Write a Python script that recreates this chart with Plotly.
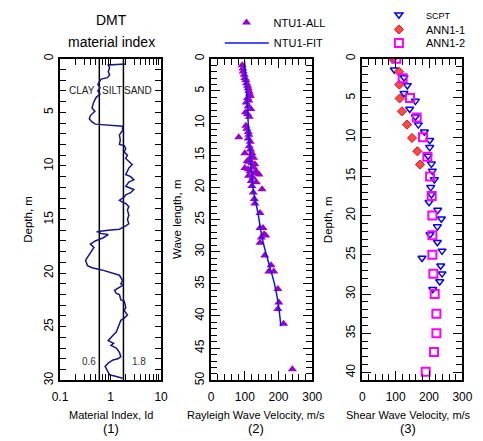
import plotly.graph_objects as go

W, H = 483, 441
FONT = "Liberation Sans, Arial, sans-serif"

# ---------------- data ----------------
# Panel 1: DMT material index profile
id_depth = [0.50, 0.58, 0.85, 1.20, 1.50, 1.76, 1.90, 2.10, 2.40, 2.70, 3.00, 3.30, 3.60, 4.10, 4.60,
            4.90, 5.30, 5.60, 5.90, 6.10, 6.30, 6.70, 7.10, 7.60, 8.00, 8.10, 8.40, 8.70, 9.00, 9.30,
            9.60, 9.87, 10.2, 10.8, 11.0, 11.3, 11.5, 11.9, 12.2, 12.5, 12.7, 12.9, 13.2, 13.4, 13.5,
            13.8, 14.1, 14.6, 15.0, 15.4, 15.6, 15.9, 16.0, 16.1, 16.15, 16.2, 16.3, 16.4, 16.7, 17.0,
            17.3, 17.6, 17.9, 18.5, 18.8, 19.3, 19.5, 19.7, 19.9, 20.2, 20.7, 21.0, 21.1, 21.4, 21.6,
            21.9, 22.0, 22.5, 22.6, 23.2, 23.5, 23.9, 24.2, 24.4, 24.8, 25.2, 25.5, 25.8, 26.3, 26.55,
            26.75, 27.0, 27.4, 27.8, 28.0, 28.1, 28.4, 28.7, 29.2, 29.5, 29.6, 29.8]
id_value = [2.00, 0.90, 0.96, 0.90, 0.96, 0.87, 0.65, 0.62, 0.56, 0.62, 0.56, 0.62, 0.52, 0.46, 0.43,
            0.49, 0.40, 0.38, 0.43, 0.50, 1.73, 1.73, 1.50, 1.56, 1.50, 1.87, 2.00, 1.87, 2.16, 2.00,
            2.30, 2.68, 2.30, 2.00, 2.50, 2.90, 2.30, 2.00, 2.90, 2.50, 2.00, 1.87, 1.50, 1.73, 2.00,
            2.30, 2.16, 2.30, 2.16, 2.30, 2.00, 1.50, 0.90, 0.62, 0.53, 0.62, 0.62, 0.90, 0.72, 0.50,
            0.40, 0.47, 0.43, 0.35, 0.32, 0.35, 0.43, 0.67, 0.96, 1.50, 1.73, 1.60, 1.80, 1.40, 1.20,
            1.30, 1.50, 1.60, 1.87, 2.00, 1.87, 2.16, 1.87, 1.60, 1.50, 1.40, 1.30, 1.12, 0.90, 1.15,
            1.02, 1.30, 1.50, 1.60, 1.40, 1.12, 0.90, 0.78, 0.90, 0.96, 1.20, 1.73]
id_bounds = [0.6, 1.8]
id_bound_labels = ["0.6", "1.8"]
soil_labels = ["CLAY", "SILT", "SAND"]

# Panel 2: Rayleigh wave velocity vs wave length
ntu_all_v = [92, 94, 95, 98, 100, 103, 105, 108, 110, 112, 114, 116, 108, 112, 104, 110, 118, 102, 108, 113,
             103, 106, 110, 112, 82, 110, 116, 113, 117, 100, 121, 118, 126, 107,
             112, 121, 130, 100, 110, 126, 133, 116, 130, 142, 111, 124, 119, 134, 121, 151, 125, 128, 130, 145,
             145, 154, 157, 162, 149, 145, 159, 178, 171, 186, 198, 201, 198, 215, 241]
ntu_all_d = [1.0, 1.5, 2.0, 2.5, 3.0, 3.3, 3.8, 4.2, 4.6, 5.0, 5.4, 5.8, 6.1, 6.5, 6.8, 7.4, 7.8, 8.3, 8.6, 9.0,
             10.4, 10.9, 11.4, 11.8, 12.2, 12.4, 12.9, 13.6, 14.1, 14.7, 14.7, 15.3, 15.4, 15.9,
             16.0, 16.2, 16.4, 17.0, 17.2, 16.9, 17.5, 17.5, 17.8, 18.0, 18.2, 18.5, 19.0, 19.2, 19.8, 20.3, 20.8, 21.8, 22.5, 24.0,
             26.3, 26.3, 27.3, 27.5, 27.8, 28.6, 30.6, 32.1, 33.1, 33.1, 35.8, 37.9, 38.9, 41.2, 48.3]
ntu_fit_v = [99, 105, 110, 117, 124, 139, 152, 172, 188, 199, 207]
ntu_fit_d = [0.3, 5, 10, 16, 20, 24, 28, 32, 35, 38, 41.6]

# Panel 3: shear wave velocity vs depth
scpt_v = [96, 125, 135, 125, 159, 142, 159, 168, 186, 202, 202, 197, 207, 210, 216, 205, 207, 200, 226, 237,
          225, 203, 225, 239, 179, 235, 239, 232, 211]
scpt_d = [1.4, 2.4, 3.4, 4.4, 5.4, 6.4, 7.4, 8.4, 9.3, 10.4, 11.3, 12.4, 13.4, 14.3, 15.4, 16.4, 17.3, 18.3, 19.3, 20.4,
          21.4, 22.4, 23.4, 24.5, 25.4, 26.4, 27.4, 28.4, 29.4]
ann1_v = [91, 110, 111, 112, 119, 134, 149, 165, 173]
ann1_d = [0.0, 1.66, 3.3, 5.06, 6.7, 8.4, 10.1, 11.8, 13.5]
ann2_v = [102, 121, 143, 163, 182, 195, 203, 208, 210, 210, 210, 213, 217, 222, 222, 215, 190]
ann2_d = [0.0, 2.5, 5.0, 7.5, 10.0, 12.5, 15.0, 17.5, 20.0, 22.5, 25.0, 27.4, 30.0, 32.5, 35.0, 37.4, 39.9]

# tick labels
log_tickvals = [0.1 * k for k in range(1, 10)] + [float(k) for k in range(1, 10)] + [10.0]
log_ticktext = ["0.1"] + [""] * 8 + ["1"] + [""] * 8 + ["10"]

x_titles = ["Material Index, Id", "Rayleigh Wave Velocity, m/s", "Shear Wave Velocity, m/s"]
x_numbers = ["(1)", "(2)", "(3)"]
y_titles = ["Depth, m", "Wave length, m", "Depth, m"]


def px(x):
    return x / W


def py(y):
    return 1 - y / H


fig = go.Figure()

# panel 1
for b in id_bounds:
    fig.add_trace(go.Scatter(x=[b, b], y=[0, 30], mode="lines", line=dict(color="black", width=1.5),
                             showlegend=False, hoverinfo="skip", xaxis="x", yaxis="y"))
fig.add_trace(go.Scatter(x=id_value, y=id_depth, mode="lines", line=dict(color="#16168C", width=1.5),
                         showlegend=False, xaxis="x", yaxis="y"))

# panel 2
fig.add_trace(go.Scatter(x=ntu_all_v, y=ntu_all_d, mode="markers", name="NTU1-ALL",
                         marker=dict(symbol="triangle-up", size=8, color="#9A00C8"),
                         xaxis="x2", yaxis="y2", legend="legend"))
fig.add_trace(go.Scatter(x=ntu_fit_v, y=ntu_fit_d, mode="lines", name="NTU1-FIT", line_shape="spline",
                         line=dict(color="#0A14FF", width=1.5),
                         xaxis="x2", yaxis="y2", legend="legend2"))

# panel 3
fig.add_trace(go.Scatter(x=scpt_v, y=scpt_d, mode="markers", name="<span style='font-size:9px'>SCPT</span>",
                         marker=dict(symbol="triangle-down-open", size=7, color="#0000FF", line=dict(width=1.5)),
                         xaxis="x3", yaxis="y3", legend="legend3"))
fig.add_trace(go.Scatter(x=ann1_v, y=ann1_d, mode="markers", name="ANN1-1",
                         marker=dict(symbol="diamond", size=7, color="#FF4848", line=dict(color="#E01010", width=1)),
                         xaxis="x3", yaxis="y3", legend="legend4"))
fig.add_trace(go.Scatter(x=ann2_v, y=ann2_d, mode="markers", name="ANN1-2",
                         marker=dict(symbol="square-open", size=8, color="#FF00FF", line=dict(width=2)),
                         xaxis="x3", yaxis="y3", legend="legend5"))

ydom = [py(384), py(55)]
common = dict(showline=True, linewidth=2, linecolor="black", mirror="ticks", ticks="inside",
              showgrid=False, zeroline=False, tickcolor="black", tickwidth=1,
              tickfont=dict(family=FONT, size=12, color="black"))
xcommon = dict(ticklabelstandoff=4)


def leg(xm, ym):
    return dict(x=px(xm - 22), y=py(ym), xanchor="left", yanchor="middle", bgcolor="rgba(0,0,0,0)",
                font=dict(family=FONT, size=11, color="black"), itemwidth=44)


fig.update_layout(
    width=W, height=H, margin=dict(l=0, r=0, t=0, b=0),
    paper_bgcolor="white", plot_bgcolor="white",
    font=dict(family=FONT, color="black"),
    xaxis=dict(type="log", range=[-1, 1], domain=[px(54), px(159)], anchor="y",
               tickvals=log_tickvals, ticktext=log_ticktext, ticklen=6, **xcommon, **common),
    yaxis=dict(range=[30, 0], domain=ydom, anchor="x", dtick=5, ticklen=6, tickangle=-90,
               minor=dict(dtick=1, ticks="inside", ticklen=6, tickcolor="black"), **common),
    xaxis2=dict(range=[0, 300], domain=[px(211), px(316)], anchor="y2", dtick=100, ticklen=9,
                minor=dict(dtick=20, ticks="inside", ticklen=6, tickcolor="black"), **xcommon, **common),
    yaxis2=dict(range=[50, 0], domain=ydom, anchor="x2", dtick=5, ticklen=9, tickangle=-90,
                minor=dict(dtick=1, ticks="inside", ticklen=6, tickcolor="black"), **common),
    xaxis3=dict(range=[0, 300], domain=[px(368), px(472)], anchor="y3", dtick=100, ticklen=9,
                minor=dict(dtick=20, ticks="inside", ticklen=6, tickcolor="black"), **xcommon, **common),
    yaxis3=dict(range=[41, 0], domain=ydom, anchor="x3", dtick=5, ticklen=9, tickangle=-90,
                minor=dict(dtick=1, ticks="inside", ticklen=6, tickcolor="black"), **common),
    legend=leg(241.7, 18),
    legend2=leg(242, 39),
    legend3=leg(400, 10),
    legend4=leg(400, 25),
    legend5=leg(400, 39),
)

ann = []
ann.append(dict(text="DMT", x=px(107), y=py(15)))
ann.append(dict(text="material index", x=px(107), y=py(38)))
for a in ann:
    a.update(xref="paper", yref="paper", showarrow=False, font=dict(family=FONT, size=14, color="black"),
             xanchor="center", yanchor="middle")

soil_x = [77, 108, 135.5]
for t, xx in zip(soil_labels, soil_x):
    ann.append(dict(text=t, x=px(xx), y=py(87), xref="paper", yref="paper", showarrow=False,
                    font=dict(family=FONT, size=10, color="#222"), xanchor="center", yanchor="middle"))
for t, xx in zip(id_bound_labels, [84, 135.7]):
    ann.append(dict(text=t, x=px(xx), y=py(365), xref="paper", yref="paper", showarrow=False,
                    font=dict(family=FONT, size=10, color="#333"), xanchor="center", yanchor="middle"))

title_cx = [106.5, 258, 415.5]
for t, n, cx in zip(x_titles, x_numbers, title_cx):
    ann.append(dict(text=t, x=px(cx), y=py(420), xref="paper", yref="paper", showarrow=False,
                    font=dict(family=FONT, size=11, color="black"), xanchor="center", yanchor="middle"))
    ann.append(dict(text=n, x=px(cx), y=py(433), xref="paper", yref="paper", showarrow=False,
                    font=dict(family=FONT, size=13, color="black"), xanchor="center", yanchor="middle"))

for t, cx in zip(y_titles, [20, 175, 332]):
    ann.append(dict(text=t, x=px(cx), y=py(219.5), xref="paper", yref="paper", showarrow=False,
                    textangle=-90, font=dict(family=FONT, size=11.5, color="black"),
                    xanchor="center", yanchor="middle"))

fig.update_layout(annotations=ann)
fig.write_html("out.html")
